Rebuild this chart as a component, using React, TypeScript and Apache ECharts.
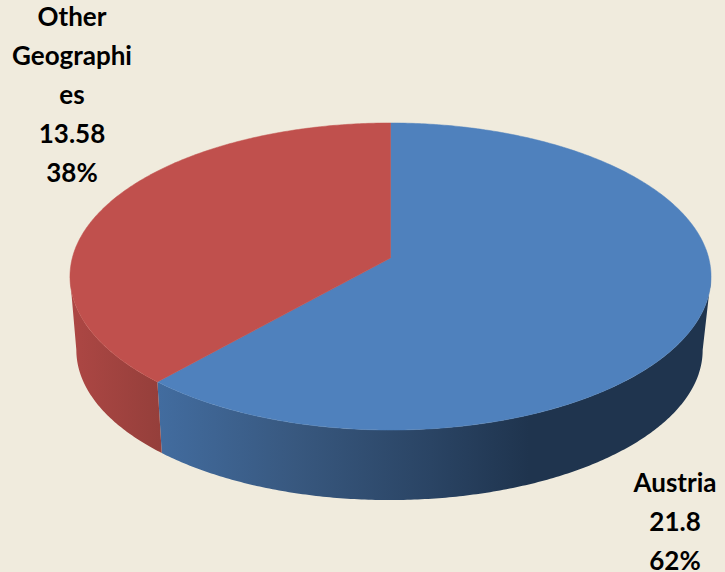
import React, { useEffect, useRef } from "react";
import * as echarts from "echarts";

// Portfolio split by geography
const categories = ["Austria", "Other Geographies"];
const values = [21.8, 13.58];
const labelLines = [["Austria"], ["Other", "Geographi", "es"]];

const WIDTH = 725;
const HEIGHT = 572;
const TOP_COLORS = ["#4f81bd", "#c0504d"];
const SIDE_STOPS = [
  [
    { offset: 0, color: "#426c9f" },
    { offset: 0.25, color: "#38587f" },
    { offset: 0.5, color: "#2a4464" },
    { offset: 0.68, color: "#1f344e" },
    { offset: 1, color: "#1f344e" },
  ],
  [
    { offset: 0, color: "#ad4744" },
    { offset: 1, color: "#953f3b" },
  ],
];
const SIDE_RANGES = [
  [159, 703],
  [70, 160],
];
const LABEL_BOX = [
  { x: 675, y: 462 },
  { x: 72, y: -4 },
];
const LINE_HEIGHT = 39;

// Tilted disc with perspective: u, v lie on the unit circle, v > 0 is the near side.
const K = 0.1205;
const RX = 318.2;
const RY = 151.3;
const TOP_FACE = { cx: 390.5, cy: 258, s: 1 };
const BOTTOM_FACE = { cx: 389.5, cy: 332, s: 0.977 };
const SILHOUETTE = Math.acos(-K); // clockwise from the top, where the rim turns out of sight

function rimPoint(angle: number, face: typeof TOP_FACE) {
  const u = Math.sin(angle);
  const v = -Math.cos(angle);
  const d = 1 - K * v;
  return [face.cx + (face.s * RX * u) / d, face.cy + (face.s * RY * v) / d];
}

function arcPoints(a0: number, a1: number, face: typeof TOP_FACE) {
  const steps = Math.max(2, Math.ceil(Math.abs(a1 - a0) / 0.01));
  const pts: number[][] = [];
  for (let i = 0; i <= steps; i++) pts.push(rimPoint(a0 + ((a1 - a0) * i) / steps, face));
  return pts;
}

export default function App() {
  const ref = useRef<HTMLDivElement>(null);

  useEffect(() => {
    document.body.style.margin = "0";
    const chart = echarts.init(ref.current!, null, { renderer: "svg" });
    const total = values.reduce((a, b) => a + b, 0);

    const renderItem = (params: any, api: any) => {
      const idx = params.dataIndex;
      const value = api.value(0);
      const before = values.slice(0, idx).reduce((a, b) => a + b, 0);
      const a0 = (before / total) * Math.PI * 2;
      const a1 = ((before + value) / total) * Math.PI * 2;

      const children: any[] = [];

      // Visible part of the outer wall: between the two silhouette angles, through the front.
      const w0 = Math.max(a0, Math.PI * 2 - SILHOUETTE > a0 && a0 < SILHOUETTE ? a0 : a0);
      const lo = Math.max(w0, a0 < SILHOUETTE ? a0 : a0);
      const segStart = Math.max(lo, Math.PI - (Math.PI - SILHOUETTE) - 0);
      const visStart = SILHOUETTE;
      const visEnd = Math.PI * 2 - SILHOUETTE;
      const s = Math.max(a0, visStart);
      const e = Math.min(a1, visEnd);
      if (e > s && segStart >= 0) {
        const wall = arcPoints(s, e, TOP_FACE).concat(arcPoints(e, s, BOTTOM_FACE));
        const [x0, x1] = SIDE_RANGES[idx];
        children.push({
          type: "polygon",
          shape: { points: wall },
          style: {
            fill: new echarts.graphic.LinearGradient(x0, 0, x1, 0, SIDE_STOPS[idx], true),
          },
          z2: 1,
        });
      }

      // Upper face of the slice.
      const top = [[TOP_FACE.cx, TOP_FACE.cy]].concat(arcPoints(a0, a1, TOP_FACE));
      children.push({
        type: "polygon",
        shape: { points: top },
        style: { fill: TOP_COLORS[idx], stroke: TOP_COLORS[idx], lineWidth: 0.5 },
        z2: 2,
      });

      // Data label: category, value and share.
      const text = labelLines[idx]
        .concat([String(value), `${Math.round((value / total) * 100)}%`])
        .join("\n");
      children.push({
        type: "text",
        x: LABEL_BOX[idx].x,
        y: LABEL_BOX[idx].y,
        style: {
          text,
          fill: "#000000",
          font: 'bold 26px Lato',
          align: "center",
          verticalAlign: "top",
          lineHeight: LINE_HEIGHT,
        },
        z2: 3,
      });

      return { type: "group", children };
    };

    chart.setOption({
      animation: false,
      backgroundColor: "#f0ebdd",
      series: [
        {
          type: "custom",
          coordinateSystem: "none",
          renderItem,
          data: categories.map((name, i) => ({ name, value: [values[i]] })),
        },
      ],
    });

    return () => chart.dispose();
  }, []);

  return <div ref={ref} style={{ position: "absolute", left: 0, top: 0, width: WIDTH, height: HEIGHT }} />;
}
